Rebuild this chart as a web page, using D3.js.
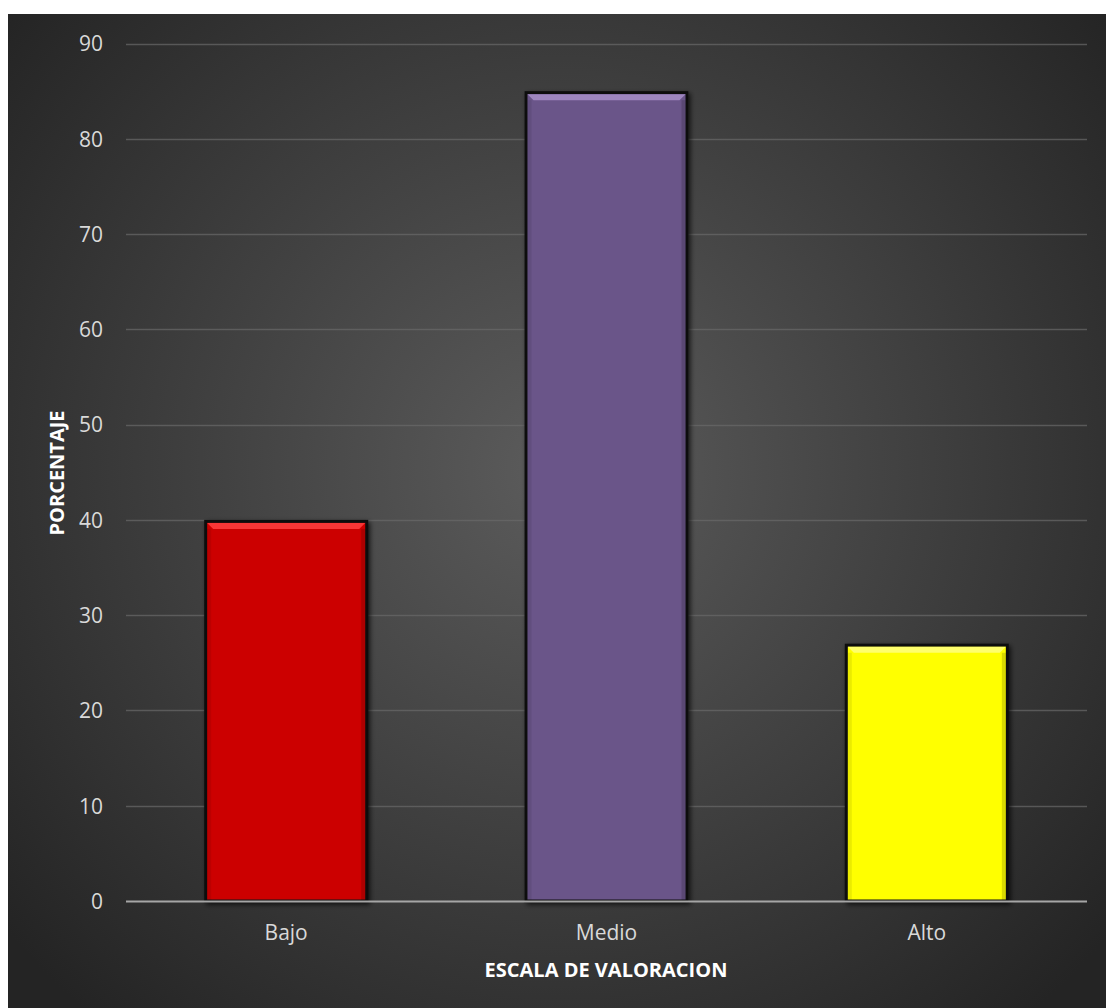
<!DOCTYPE html>
<html><head><meta charset="utf-8">
<script src="https://cdn.jsdelivr.net/npm/d3@7"></script>
<style>html,body{margin:0;padding:0;background:#fff;}svg{display:block;}</style>
</head><body>
<svg id="chart" width="1106" height="1008"></svg>
<script>
const categories = ["Bajo", "Medio", "Alto"];
const values = [40, 85, 27];
const barColors = ["#cc0000", "#6a5489", "#ffff00"];
const highlightColors = ["#ff4040", "#a78fc9", "#ffff80"];
const yTicks = [0, 10, 20, 30, 40, 50, 60, 70, 80, 90];
const yTitle = "PORCENTAJE";
const xTitle = "ESCALA DE VALORACION";

const FONT = "'Open Sans', 'Noto Sans', sans-serif";
const svg = d3.select("#chart");
const defs = svg.append("defs");

const bg = defs.append("radialGradient").attr("id","bg")
  .attr("gradientUnits","userSpaceOnUse").attr("cx",560).attr("cy",470).attr("r",720);
bg.append("stop").attr("offset","0%").attr("stop-color","#5c5c5c");
bg.append("stop").attr("offset","100%").attr("stop-color","#242424");

const sh = defs.append("filter").attr("id","shadow").attr("x","-20%").attr("y","-20%").attr("width","140%").attr("height","140%");
sh.append("feGaussianBlur").attr("in","SourceAlpha").attr("stdDeviation",2.5).attr("result","b");
sh.append("feOffset").attr("in","b").attr("dx",2).attr("dy",2).attr("result","o");
sh.append("feComponentTransfer").attr("in","o").attr("result","o2")
  .append("feFuncA").attr("type","linear").attr("slope",0.7);
const mg = sh.append("feMerge");
mg.append("feMergeNode").attr("in","o2");
mg.append("feMergeNode").attr("in","SourceGraphic");

svg.append("rect").attr("x",8).attr("y",14).attr("width",1098).attr("height",994).attr("fill","url(#bg)");

const x = d3.scaleBand().domain(categories).range([126,1087]).paddingInner(0.488).paddingOuter(0.244);
const y = d3.scaleLinear().domain([0,90]).range([901,43.5]);

// gridlines
svg.append("g").selectAll("line").data(yTicks.filter(d=>d>0)).join("line")
  .attr("x1",126).attr("x2",1087)
  .attr("y1",d=>Math.round(y(d))+0.5).attr("y2",d=>Math.round(y(d))+0.5)
  .attr("stroke","#6a6a6a").attr("stroke-opacity",0.7).attr("stroke-width",1.5);

// y axis labels
const yAxis = d3.axisLeft(y).tickValues(yTicks).tickSize(0).tickPadding(0);
const yg = svg.append("g").attr("transform","translate(103,0)").call(yAxis);
yg.select(".domain").remove();
yg.selectAll("text").attr("font-family",FONT).attr("font-size",21).attr("fill","#d9d9d9").attr("dy","0.35em");

// bars
const bars = svg.append("g").selectAll("g").data(values).join("g");
bars.append("rect")
  .attr("x",(d,i)=>x(categories[i])+1.5)
  .attr("y",d=>y(d)+1.5)
  .attr("width",x.bandwidth()-3)
  .attr("height",d=>y(0)-y(d)-1.5)
  .attr("fill",(d,i)=>barColors[i])
  .attr("stroke","#111").attr("stroke-width",3)
  .attr("filter","url(#shadow)");
// top bevel
bars.append("path")
  .attr("d",(d,i)=>{
    const x0=x(categories[i])+3, x1=x(categories[i])+x.bandwidth()-3, y0=y(d)+3, h=6;
    return `M${x0},${y0}L${x1},${y0}L${x1-h},${y0+h}L${x0+h},${y0+h}Z`;
  })
  .attr("fill",(d,i)=>highlightColors[i]).attr("opacity",0.85);
// side shading
bars.append("rect")
  .attr("x",(d,i)=>x(categories[i])+x.bandwidth()-7)
  .attr("y",d=>y(d)+9).attr("width",4).attr("height",d=>y(0)-y(d)-9)
  .attr("fill","#000").attr("opacity",0.15);
bars.append("rect")
  .attr("x",(d,i)=>x(categories[i])+3)
  .attr("y",d=>y(d)+9).attr("width",4).attr("height",d=>y(0)-y(d)-9)
  .attr("fill","#000").attr("opacity",0.08);

// x axis line
svg.append("line").attr("x1",126).attr("x2",1087).attr("y1",y(0)+0.5).attr("y2",y(0)+0.5)
  .attr("stroke","#a6a6a6").attr("stroke-width",2);

// x labels
const xAxis = d3.axisBottom(x).tickSize(0).tickPadding(0);
const xg = svg.append("g").attr("transform",`translate(0,${y(0)})`).call(xAxis);
xg.select(".domain").remove();
xg.selectAll("text").attr("font-family",FONT).attr("font-size",21).attr("fill","#d9d9d9")
  .attr("y",32).attr("dy","0.35em");

// titles
svg.append("text").attr("x",606).attr("y",970).attr("dy","0.35em").attr("text-anchor","middle")
  .attr("font-family",FONT).attr("font-weight","bold").attr("font-size",20).attr("fill","#ffffff").text(xTitle);
svg.append("text").attr("transform","translate(57,473) rotate(-90)").attr("dy","0.35em").attr("text-anchor","middle")
  .attr("font-family",FONT).attr("font-weight","bold").attr("font-size",20).attr("fill","#ffffff").text(yTitle);
</script>
</body></html>
